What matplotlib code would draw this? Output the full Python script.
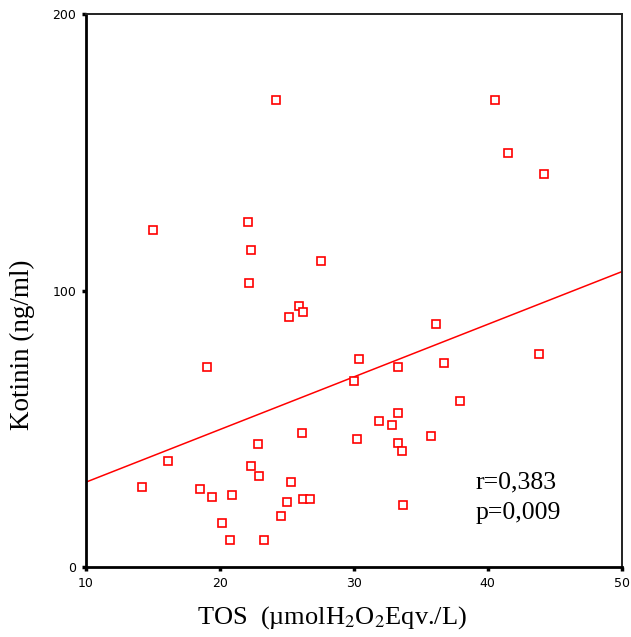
import matplotlib
matplotlib.use('Agg')
import matplotlib.pyplot as plt

# TOS (x) vs Kotinin (y)
tos = [24.16, 40.54, 41.51, 44.2, 15.0, 22.07, 22.34, 27.56, 22.19, 25.9,
       26.22, 25.15, 36.12, 30.4, 33.31, 36.74, 43.81, 19.03, 30.02, 37.96,
       33.31, 31.84, 32.84, 26.15, 35.77, 30.25, 33.31, 33.58, 22.81, 16.12,
       22.34, 22.93, 25.27, 14.16, 18.53, 19.38, 20.87, 25.0, 26.22, 26.72,
       33.68, 24.53, 20.13, 20.72, 23.31]
kotinin = [169.0, 169.0, 149.8, 142.1, 121.9, 124.9, 114.8, 110.6, 102.8, 94.4,
           92.1, 90.5, 87.9, 75.3, 72.4, 73.7, 77.1, 72.3, 67.2, 59.9,
           55.7, 52.7, 51.5, 48.5, 47.4, 46.2, 45.0, 42.0, 44.5, 38.4,
           36.4, 32.8, 30.7, 28.8, 28.2, 25.3, 25.9, 23.5, 24.6, 24.6,
           22.3, 18.6, 15.9, 9.8, 9.8]

fit_x = [10, 50]
fit_y = [30.7, 106.8]

x_ticks = [10, 20, 30, 40, 50]
y_ticks = [0, 100, 200]
stats_txt = "r=0,383\np=0,009"

plt.rcParams['mathtext.fontset'] = 'stix'
SERIF = 'Liberation Serif'

fig = plt.figure(figsize=(6.31, 6.37), dpi=100)
ax = fig.add_axes([0.1363, 0.1099, 0.849, 0.8681])

ax.plot(fit_x, fit_y, color='red', lw=1.1, zorder=2)
ax.plot(tos, kotinin, ls='none', marker='s', ms=6, mfc='white', mec='red',
        mew=1.2, zorder=3)

ax.set_xlim(10, 50)
ax.set_ylim(0, 200)
ax.set_xticks(x_ticks)
ax.set_yticks(y_ticks)
ax.tick_params(direction='out', length=3, width=2.5, labelsize=9,
               colors='black', pad=4)
for lab in ax.get_xticklabels() + ax.get_yticklabels():
    lab.set_family('DejaVu Sans')

for side in ('left', 'bottom'):
    ax.spines[side].set_linewidth(2.0)
for side in ('top', 'right'):
    ax.spines[side].set_linewidth(1.4)
    ax.spines[side].set_color('#222222')

ax.set_xlabel(r'TOS  (µmolH$_2$O$_2$Eqv./L)', family=SERIF, fontsize=19,
              va='baseline')
ax.xaxis.set_label_coords(0.459, -0.103)
ax.set_ylabel('Kotinin (ng/ml)', family=SERIF, fontsize=19.5, va='baseline')
ax.yaxis.set_label_coords(-0.107, 0.401)

ax.text(39.1, 25.0, stats_txt, family=SERIF, fontsize=18.5, va='center',
        ha='left', linespacing=1.5)

fig.savefig('out.png', dpi=100)
